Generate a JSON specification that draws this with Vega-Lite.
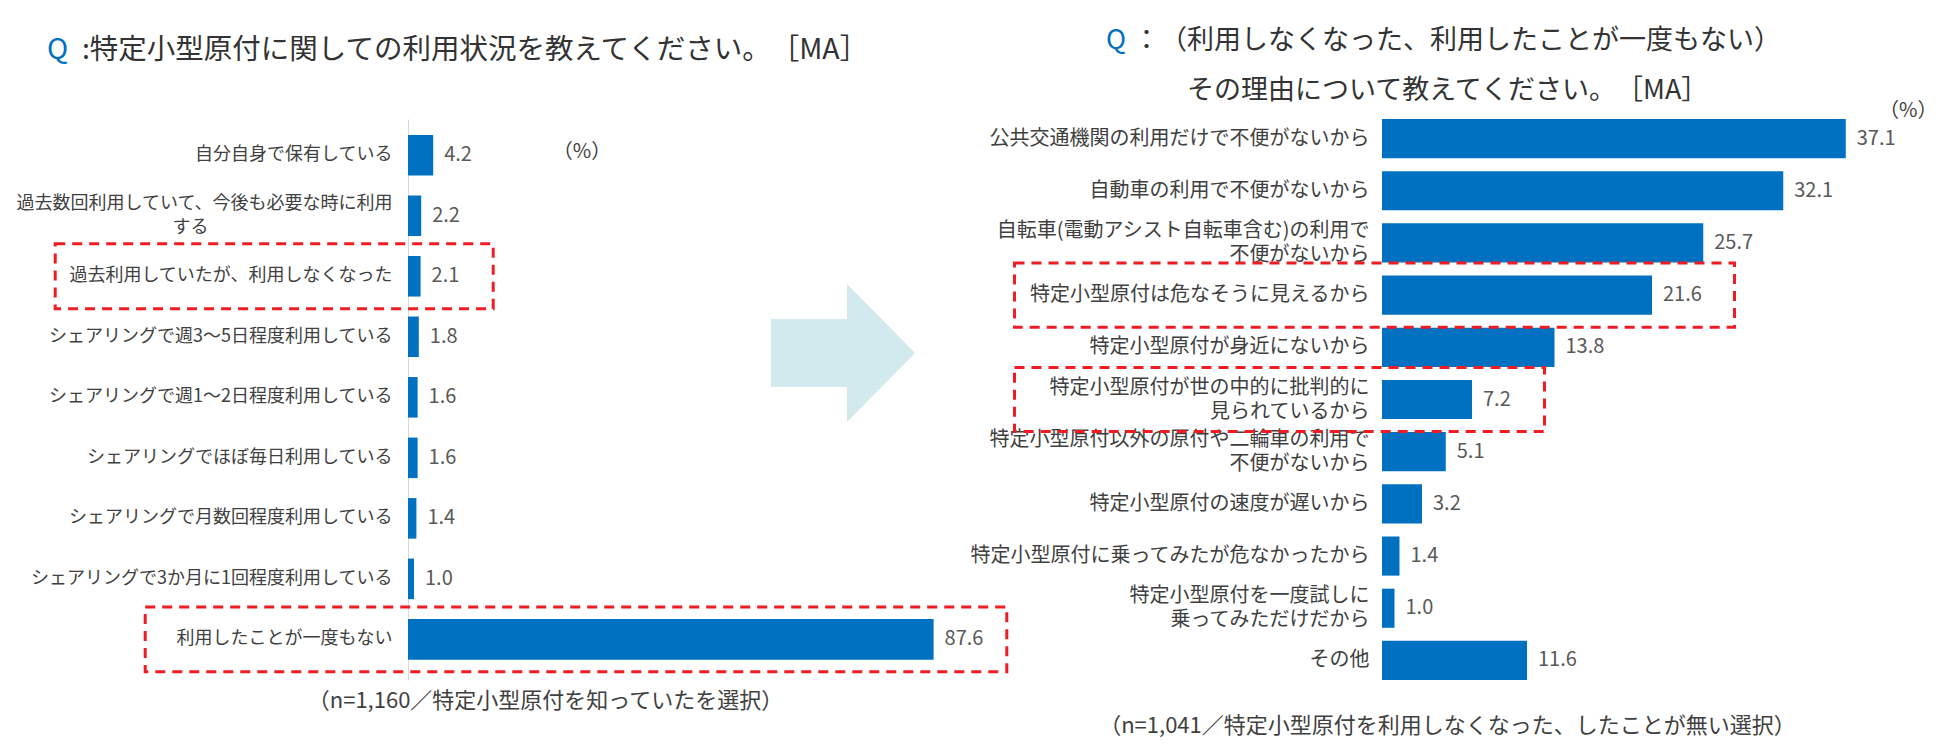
{
  "$schema": "https://vega.github.io/schema/vega-lite/v6.json",
  "autosize": {"type": "none"},
  "padding": {"left": 408, "top": 119, "right": 1542, "bottom": 634},
  "background": "white",
  "bounds": "flush",
  "spacing": 374,
  "config": {
    "font": "Noto Sans CJK JP",
    "view": {"stroke": null},
    "axis": {"grid": false, "ticks": false}
  },
  "datasets": {
    "left": [
      {"label": "自分自身で保有している", "value": 4.2},
      {"label": "過去数回利用していて、今後も必要な時に利用\nする　　　　　　　　　\u2002⠀", "value": 2.2},
      {"label": "過去利用していたが、利用しなくなった", "value": 2.1},
      {"label": "シェアリングで週3～5日程度利用している", "value": 1.8},
      {"label": "シェアリングで週1～2日程度利用している", "value": 1.6},
      {"label": "シェアリングでほぼ毎日利用している", "value": 1.6},
      {"label": "シェアリングで月数回程度利用している", "value": 1.4},
      {"label": "シェアリングで3か月に1回程度利用している", "value": 1.0},
      {"label": "利用したことが一度もない", "value": 87.6}
    ],
    "leftBoxes": [
      {"label": "過去利用していたが、利用しなくなった", "from": -58.8, "to": 14.2},
      {"label": "利用したことが一度もない", "from": -43.8, "to": 99.8}
    ],
    "right": [
      {"label": "公共交通機関の利用だけで不便がないから", "value": 37.1},
      {"label": "自動車の利用で不便がないから", "value": 32.1},
      {"label": "自転車(電動アシスト自転車含む)の利用で\n不便がないから", "value": 25.7},
      {"label": "特定小型原付は危なそうに見えるから", "value": 21.6},
      {"label": "特定小型原付が身近にないから", "value": 13.8},
      {"label": "特定小型原付が世の中的に批判的に\n見られているから", "value": 7.2},
      {"label": "特定小型原付以外の原付や二輪車の利用で\n不便がないから", "value": 5.1},
      {"label": "特定小型原付の速度が遅いから", "value": 3.2},
      {"label": "特定小型原付に乗ってみたが危なかったから", "value": 1.4},
      {"label": "特定小型原付を一度試しに\n乗ってみただけだから", "value": 1.0},
      {"label": "その他", "value": 11.6}
    ],
    "rightBoxes": [
      {"label": "特定小型原付は危なそうに見えるから", "from": -29.4, "to": 28.2},
      {"label": "特定小型原付が世の中的に批判的に\n見られているから", "from": -29.4, "to": 13.0}
    ],
    "pct": [{"note": "（%）"}],
    "decor": [{"item": "arrow"}]
  },
  "hconcat": [
    {
      "width": 600,
      "height": 561,
      "title": {
        "text": "Q",
        "subtitle": "\u200B　 :特定小型原付に関しての利用状況を教えてください。\u200B［MA］",
        "anchor": "start",
        "frame": "group",
        "dx": -361,
        "offset": 55,
        "color": "#0070c0",
        "subtitleColor": "#333333",
        "fontSize": 28.5,
        "subtitleFontSize": 28.5,
        "subtitlePadding": -28.5,
        "fontWeight": "normal",
        "subtitleFontWeight": "normal"
      },
      "layer": [
        {
          "data": {"name": "left"},
          "mark": {"type": "bar", "color": "#0070c0"},
          "encoding": {
            "y": {
              "field": "label", "type": "nominal", "sort": null,
              "scale": {
                "domain": [
                  "自分自身で保有している",
                  "過去数回利用していて、今後も必要な時に利用\nする　　　　　　　　　\u2002⠀",
                  "過去利用していたが、利用しなくなった",
                  "シェアリングで週3～5日程度利用している",
                  "シェアリングで週1～2日程度利用している",
                  "シェアリングでほぼ毎日利用している",
                  "シェアリングで月数回程度利用している",
                  "シェアリングで3か月に1回程度利用している",
                  "利用したことが一度もない"
                ],
                "paddingInner": 0.33, "paddingOuter": 0.3, "align": 0.44
              },
              "axis": {
                "title": null, "domain": true, "domainColor": "#d9d9d9", "domainWidth": 1,
                "ticks": false, "labelPadding": 16, "labelFontSize": 18, "labelColor": "#404040",
                "labelLimit": 1000, "labelOverlap": false, "labelLineHeight": 24,
                "labelBaseline": {"condition": {"test": "indexof(datum.label, '\\n') >= 0", "value": "line-bottom"}, "value": "middle"},
                "labelExpr": "split(datum.label, '\\n')"
              }
            },
            "x": {
              "field": "value", "type": "quantitative", "scale": {"domain": [0, 100]},
              "axis": {
                "title": "（n=1,160／特定小型原付を知っていたを選択）",
                "labels": false, "ticks": false, "domain": false, "grid": false,
                "titleX": 137, "titleY": 10, "titleAlign": "center", "titleBaseline": "top",
                "titleFontSize": 22, "titleFontWeight": "normal", "titleColor": "#404040"
              }
            }
          }
        },
        {
          "data": {"name": "left"},
          "mark": {"type": "text", "align": "left", "baseline": "middle", "dx": 11, "fontSize": 20, "color": "#595959"},
          "encoding": {
            "y": {"field": "label", "type": "nominal", "sort": null},
            "x": {"field": "value", "type": "quantitative"},
            "text": {"field": "value", "type": "quantitative", "format": ".1f"}
          }
        },
        {
          "data": {"name": "leftBoxes"},
          "mark": {"type": "rect", "fill": "transparent", "stroke": "#f01c24", "strokeWidth": 3, "strokeDash": [10, 7], "height": {"band": 1.6}},
          "encoding": {
            "y": {"field": "label", "type": "nominal", "sort": null},
            "x": {"field": "from", "type": "quantitative"},
            "x2": {"field": "to"}
          }
        },
        {
          "data": {"name": "decor"},
          "mark": {"type": "point", "shape": "M-1,-0.247L0.056,-0.247L0.056,-0.733L1,0.225L0.056,1.183L0.056,0.697L-1,0.697Z", "size": 20736, "filled": true, "color": "#d2e9ee", "opacity": 1, "strokeWidth": 0},
          "encoding": {
            "x": {"datum": 72.5, "type": "quantitative"},
            "y": {"datum": "シェアリングで週3～5日程度利用している", "type": "nominal"}
          }
        },
        {
          "data": {"name": "pct"},
          "mark": {"type": "text", "fontSize": 20, "color": "#404040", "dy": -3},
          "encoding": {
            "x": {"datum": 29, "type": "quantitative"},
            "y": {"datum": "自分自身で保有している", "type": "nominal"},
            "text": {"field": "note", "type": "nominal"}
          }
        }
      ]
    },
    {
      "width": 500,
      "height": 561,
      "title": {
        "text": "Q",
        "subtitle": ["\u200B　：\u200B（利用しなくなった、利用したことが一度もない）", "\u200B　　　その理由について教えてください。\u200B［MA］"],
        "anchor": "start",
        "frame": "group",
        "dx": -276,
        "offset": -4,
        "color": "#0070c0",
        "subtitleColor": "#333333",
        "fontSize": 27,
        "subtitleFontSize": 27,
        "subtitlePadding": -27,
        "subtitleLineHeight": 50,
        "fontWeight": "normal",
        "subtitleFontWeight": "normal"
      },
      "layer": [
        {
          "data": {"name": "right"},
          "mark": {"type": "bar", "color": "#0070c0"},
          "encoding": {
            "y": {
              "field": "label", "type": "nominal", "sort": null,
              "scale": {
                "domain": [
                  "公共交通機関の利用だけで不便がないから",
                  "自動車の利用で不便がないから",
                  "自転車(電動アシスト自転車含む)の利用で\n不便がないから",
                  "特定小型原付は危なそうに見えるから",
                  "特定小型原付が身近にないから",
                  "特定小型原付が世の中的に批判的に\n見られているから",
                  "特定小型原付以外の原付や二輪車の利用で\n不便がないから",
                  "特定小型原付の速度が遅いから",
                  "特定小型原付に乗ってみたが危なかったから",
                  "特定小型原付を一度試しに\n乗ってみただけだから",
                  "その他"
                ],
                "paddingInner": 0.25, "paddingOuter": 0
              },
              "axis": {
                "title": null, "domain": false, "ticks": false, "labelPadding": 13,
                "labelFontSize": 20, "labelColor": "#404040", "labelLimit": 1000,
                "labelOverlap": false, "labelLineHeight": 24,
                "labelBaseline": {"condition": {"test": "indexof(datum.label, '\\n') >= 0", "value": "line-bottom"}, "value": "middle"},
                "labelExpr": "split(datum.label, '\\n')"
              }
            },
            "x": {
              "field": "value", "type": "quantitative", "scale": {"domain": [0, 40]},
              "axis": {
                "title": "（n=1,041／特定小型原付を利用しなくなった、したことが無い選択）",
                "labels": false, "ticks": false, "domain": false, "grid": false,
                "titleX": 65, "titleY": 35, "titleAlign": "center", "titleBaseline": "top",
                "titleFontSize": 22, "titleFontWeight": "normal", "titleColor": "#404040"
              }
            }
          }
        },
        {
          "data": {"name": "right"},
          "mark": {"type": "text", "align": "left", "baseline": "middle", "dx": 11, "fontSize": 20, "color": "#595959"},
          "encoding": {
            "y": {"field": "label", "type": "nominal", "sort": null},
            "x": {"field": "value", "type": "quantitative"},
            "text": {"field": "value", "type": "quantitative", "format": ".1f"}
          }
        },
        {
          "data": {"name": "rightBoxes"},
          "mark": {"type": "rect", "fill": "transparent", "stroke": "#f01c24", "strokeWidth": 3, "strokeDash": [10, 7], "height": {"band": 1.64}},
          "encoding": {
            "y": {"field": "label", "type": "nominal", "sort": null},
            "x": {"field": "from", "type": "quantitative"},
            "x2": {"field": "to"}
          }
        },
        {
          "data": {"name": "pct"},
          "mark": {"type": "text", "fontSize": 20, "color": "#404040", "dy": -28},
          "encoding": {
            "x": {"datum": 42.1, "type": "quantitative"},
            "y": {"datum": "公共交通機関の利用だけで不便がないから", "type": "nominal"},
            "text": {"field": "note", "type": "nominal"}
          }
        }
      ]
    }
  ]
}
